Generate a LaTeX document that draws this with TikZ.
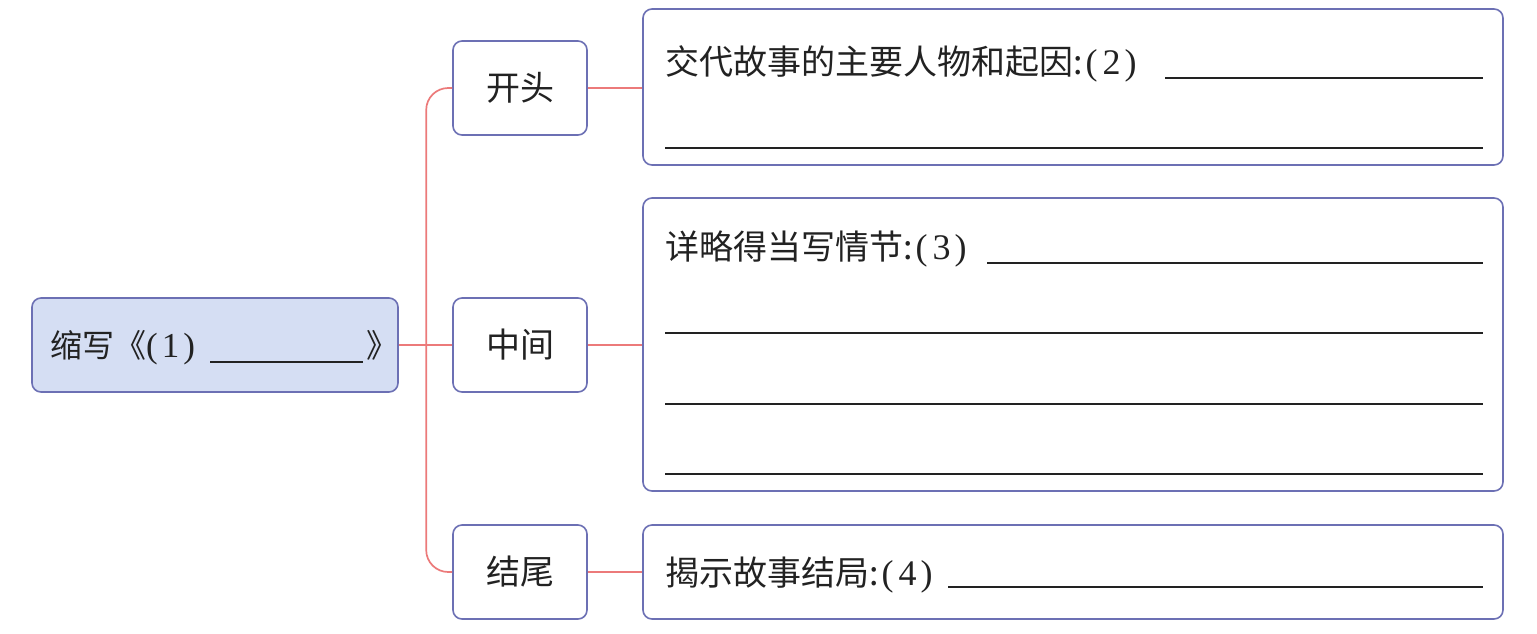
\documentclass[tikz,border=0pt]{standalone}
\usepackage{fontspec}
\newfontfamily\cjk{Noto Sans CJK SC}
\newfontfamily\numfont{Liberation Serif}
\newcommand{\paren}[1]{\hspace{3pt}{\numfont\fontsize{36}{40}\selectfont(\hspace{5pt}#1\hspace{4pt})}}
\definecolor{boxline}{HTML}{6C70B4}
\definecolor{rootfill}{HTML}{D5DEF3}
\definecolor{linkred}{HTML}{EC7A7A}
\definecolor{ink}{HTML}{222222}
\begin{document}
\begin{tikzpicture}[x=1pt,y=-1pt,
  box/.style={draw=boxline, line width=1.6pt, rounded corners=9pt, fill=white, inner sep=0pt,
              text=ink, font=\cjk\fontsize{34}{40}\selectfont},
  conn/.style={draw=linkred, line width=1.7pt},
  blank/.style={draw=ink, line width=1.3pt},
  txt/.style={anchor=base west, inner sep=0pt, text=ink, font=\cjk\fontsize{34}{40}\selectfont}]
\useasboundingbox (0,0) rectangle (1537,633);
\fill[white] (0,0) rectangle (1537,633);

% boxes
\node[box, fill=rootfill, minimum width=366pt, minimum height=94pt] (root) at (215,345) {};
\node[box, minimum width=134pt, minimum height=94pt] (kt) at (520,88) {开头};
\node[box, minimum width=134pt, minimum height=94pt] (zj) at (520,345) {中间};
\node[box, minimum width=134pt, minimum height=94pt] (jw) at (520,572) {结尾};
\node[box, minimum width=860pt, minimum height=156pt] (b1) at (1073,87) {};
\node[box, minimum width=860pt, minimum height=293pt] (b2) at (1073,344.5) {};
\node[box, minimum width=860pt, minimum height=94pt] (b3) at (1073,572) {};

% connectors
\draw[conn] (root.east) -- (zj.west);
\draw[conn, rounded corners=22pt] (kt.west) -- ++(-26,0) |- (jw.west);
\draw[conn] (kt.east) -- (kt.east -| b1.west);
\draw[conn] (zj.east) -- (zj.east -| b2.west);
\draw[conn] (jw.east) -- (jw.east -| b3.west);

% root text
\node[txt, font=\cjk\fontsize{32}{38}\selectfont] (t0) at (50,357) {缩写《{\numfont\fontsize{35}{40}\selectfont(\hspace{4pt}1\hspace{4pt})}};
\coordinate (u0a) at (210,362);
\coordinate (u0b) at (363,362);
\draw[blank] (u0a) -- (u0b);
\node[txt, font=\cjk\fontsize{32}{38}\selectfont] (t0b) at (366,357) {》};

% box 1
\node[txt] (t1) at (665,74) {交代故事的主要人物和起因:\paren{2}};
\coordinate (l1a) at (1165,78);  \coordinate (l1b) at (1483,78);
\coordinate (l2a) at (665,148);  \coordinate (l2b) at (1483,148);
\draw[blank] (l1a) -- (l1b);
\draw[blank] (l2a) -- (l2b);

% box 2
\node[txt] (t2) at (665,259) {详略得当写情节:\paren{3}};
\coordinate (l3a) at (987,263);  \coordinate (l3b) at (1483,263);
\coordinate (l4a) at (665,333);  \coordinate (l4b) at (1483,333);
\coordinate (l5a) at (665,404);  \coordinate (l5b) at (1483,404);
\coordinate (l6a) at (665,474);  \coordinate (l6b) at (1483,474);
\draw[blank] (l3a) -- (l3b);
\draw[blank] (l4a) -- (l4b);
\draw[blank] (l5a) -- (l5b);
\draw[blank] (l6a) -- (l6b);

% box 3
\node[txt] (t3) at (665,585) {揭示故事结局:\paren{4}};
\coordinate (l7a) at (948,587);  \coordinate (l7b) at (1483,587);
\draw[blank] (l7a) -- (l7b);
\end{tikzpicture}
\end{document}
